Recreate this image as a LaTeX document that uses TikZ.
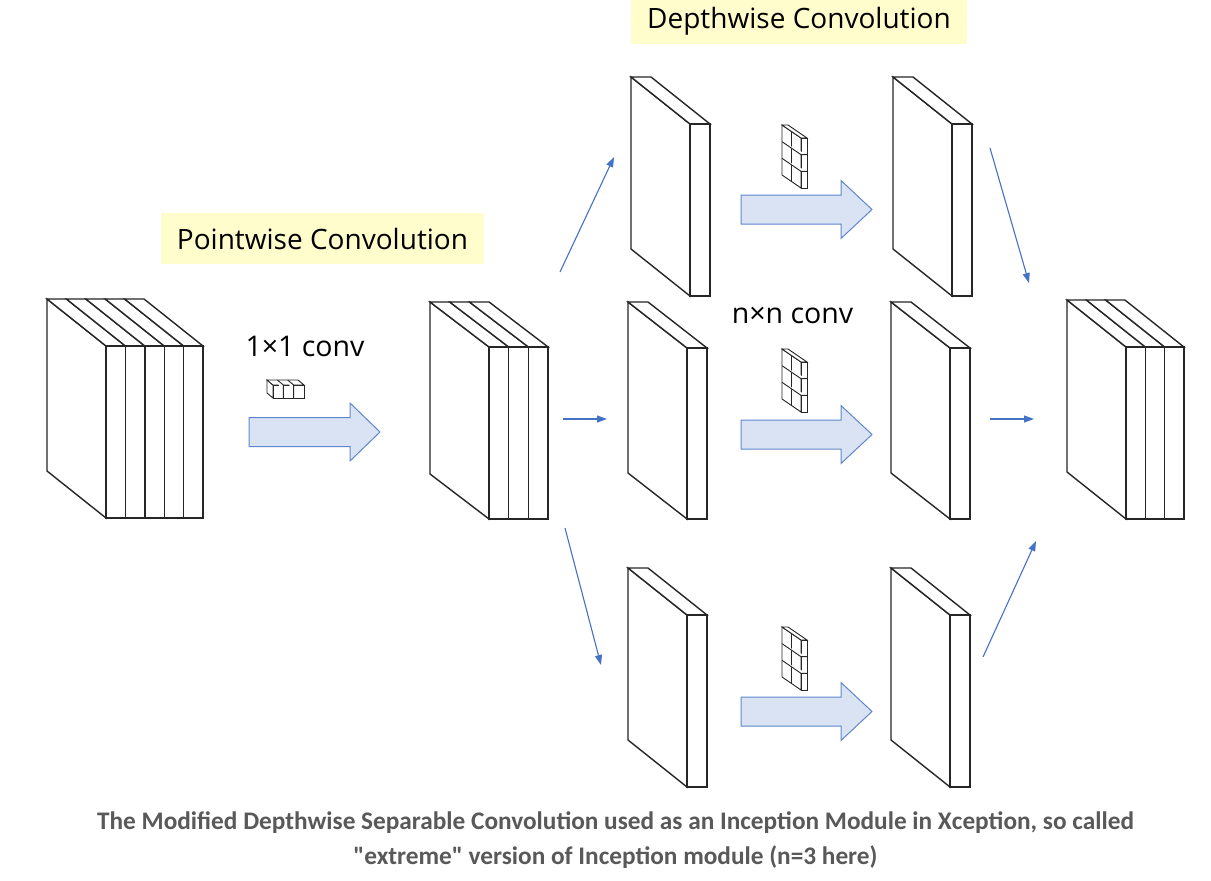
\documentclass[tikz,border=0pt]{standalone}
\usepackage{fontspec}
\setmainfont{Open Sans}
\newfontfamily\capfont{Carlito}
\usetikzlibrary{arrows.meta}
\definecolor{ylw}{HTML}{FFFDCC}
\definecolor{afill}{HTML}{DAE3F3}
\definecolor{aline}{HTML}{4472C4}
\definecolor{capgray}{HTML}{595959}
\tikzset{
  slab/.style={draw=black!85, fill=white, line width=1.4pt, line join=miter},
  kern/.style={draw=black!85, fill=white, line width=0.9pt},
  thinarrow/.style={draw=aline, line width=1.1pt, -{Triangle[length=10pt,width=7pt]}},
  fatarrow/.style={draw=aline!85, fill=afill, line width=1pt},
  banner/.style={fill=ylw, inner sep=0pt, font=\fontsize{28}{32}\selectfont},
  lbl/.style={inner sep=0pt, font=\fontsize{28.5}{32}\selectfont},
  captxt/.style={inner sep=0pt, text=capgray, font=\capfont\bfseries\fontsize{25.3}{34}\selectfont, align=center}
}
% #1 x0, #2 y0, #3 n, #4 w, #5 dx, #6 dy, #7 h, #8 name
\newcommand{\mystack}[8]{%
  \filldraw[slab] (#1,#2) -- ++(#5,#6) -- ++(0,#7) -- ++(-#5,-#6) -- cycle;
  \foreach \k in {1,...,#3}{%
    \filldraw[slab] ({#1+(\k-1)*#4},#2) -- ++(#4,0) -- ++(#5,#6) -- ++(-#4,0) -- cycle;
    \filldraw[slab] ({#1+#5+(\k-1)*#4},{#2+#6}) rectangle ++(#4,#7);
  }%
  \coordinate (#8) at ({#1+#5},{#2+#6});%
}
% fat arrow: #1 x start, #2 y centre, #3 x head base, #4 x tip, #5 name
\newcommand{\myfat}[5]{%
  \filldraw[fatarrow] (#1,{#2-14.5}) -- (#3,{#2-14.5}) -- (#3,{#2-29}) -- (#4,#2)
    -- (#3,{#2+29}) -- (#3,{#2+14.5}) -- (#1,{#2+14.5}) -- cycle;
  \coordinate (#5) at (#4,#2);%
}
% n x n kernel, back top-left corner #1,#2
\newcommand{\mykern}[2]{%
  \begin{scope}[shift={(#1,#2)}]
    \filldraw[kern] (0,0) -- (19,13) -- (19,63) -- (0,50) -- cycle;
    \filldraw[kern] (0,0) -- (6,0) -- (25,13) -- (19,13) -- cycle;
    \filldraw[kern] (19,13) rectangle (25,63);
    \draw[kern] (9.5,6.5) -- (9.5,56.5);
    \draw[kern] (0,16.67) -- (19,29.67) -- (25,29.67);
    \draw[kern] (0,33.33) -- (19,46.33) -- (25,46.33);
  \end{scope}%
}
\begin{document}
\begin{tikzpicture}[x=1pt,y=-1pt]
\useasboundingbox (0,0) rectangle (1211,881);
\fill[white] (0,0) rectangle (1211,881);

% banners
\node[banner, minimum width=323, minimum height=51] (pwlabel) at (322.5,238.5) {Pointwise Convolution};
\node[banner, minimum width=336, minimum height=46] (dwlabel) at (799,21) {Depthwise Convolution};

% stacks
\mystack{47}{299}{5}{19.4}{59}{47}{172}{input}
\mystack{430}{302}{3}{19.7}{59}{45}{172}{pw}
\mystack{1067}{300}{3}{19.3}{59}{47}{172}{output}
\mystack{631}{77}{1}{20}{59}{47}{172}{dA}
\mystack{893}{77}{1}{20}{59}{47}{172}{dA2}
\mystack{628}{302}{1}{20}{59}{46}{171}{dB}
\mystack{891}{302}{1}{20}{59}{46}{171}{dB2}
\mystack{628}{568}{1}{20}{59}{47}{172}{dC}
\mystack{891}{568}{1}{20}{59}{47}{172}{dC2}

% labels
\node[lbl] (c11) at (305,346) {1×1 conv};
\node[lbl] (cnn) at (792.5,315) {n×n conv};

% 1x1 kernel
\begin{scope}[shift={(267,380)}]
  \filldraw[kern] (0,0) -- (6,5) -- (6,18) -- (0,13) -- cycle;
  \filldraw[kern] (0,0) -- (31,0) -- (37,5) -- (6,5) -- cycle;
  \filldraw[kern] (6,5) rectangle (37,18);
  \draw[kern] (10.33,0) -- (16.33,5) -- (16.33,18);
  \draw[kern] (20.67,0) -- (26.67,5) -- (26.67,18);
\end{scope}

% n x n kernels
\mykern{782}{125}
\mykern{782}{349}
\mykern{782}{627}

% fat arrows
\myfat{249}{432}{350}{380}{fpw}
\myfat{741}{209.5}{841}{872}{fA}
\myfat{741}{434.5}{841}{872}{fB}
\myfat{741}{711.5}{841}{872}{fC}

% thin arrows
\coordinate (a1s) at (560,272); \coordinate (a1e) at (614,157);
\coordinate (a2s) at (563,419); \coordinate (a2e) at (607,419);
\coordinate (a3s) at (565,528); \coordinate (a3e) at (601,665);
\coordinate (b1s) at (990,148); \coordinate (b1e) at (1029,283);
\coordinate (b2s) at (990,419); \coordinate (b2e) at (1034,419);
\coordinate (b3s) at (983,657); \coordinate (b3e) at (1036,541);
\draw[thinarrow] (a1s) -- (a1e);
\draw[thinarrow] (a2s) -- (a2e);
\draw[thinarrow] (a3s) -- (a3e);
\draw[thinarrow] (b1s) -- (b1e);
\draw[thinarrow] (b2s) -- (b2e);
\draw[thinarrow] (b3s) -- (b3e);

% caption
\node[captxt] (cap1) at (615.5,823) {The Modified Depthwise Separable Convolution used as an Inception Module in Xception, so called};
\node[captxt] (cap2) at (615.5,857) {"extreme" version of Inception module (n=3 here)};
\end{tikzpicture}
\end{document}
